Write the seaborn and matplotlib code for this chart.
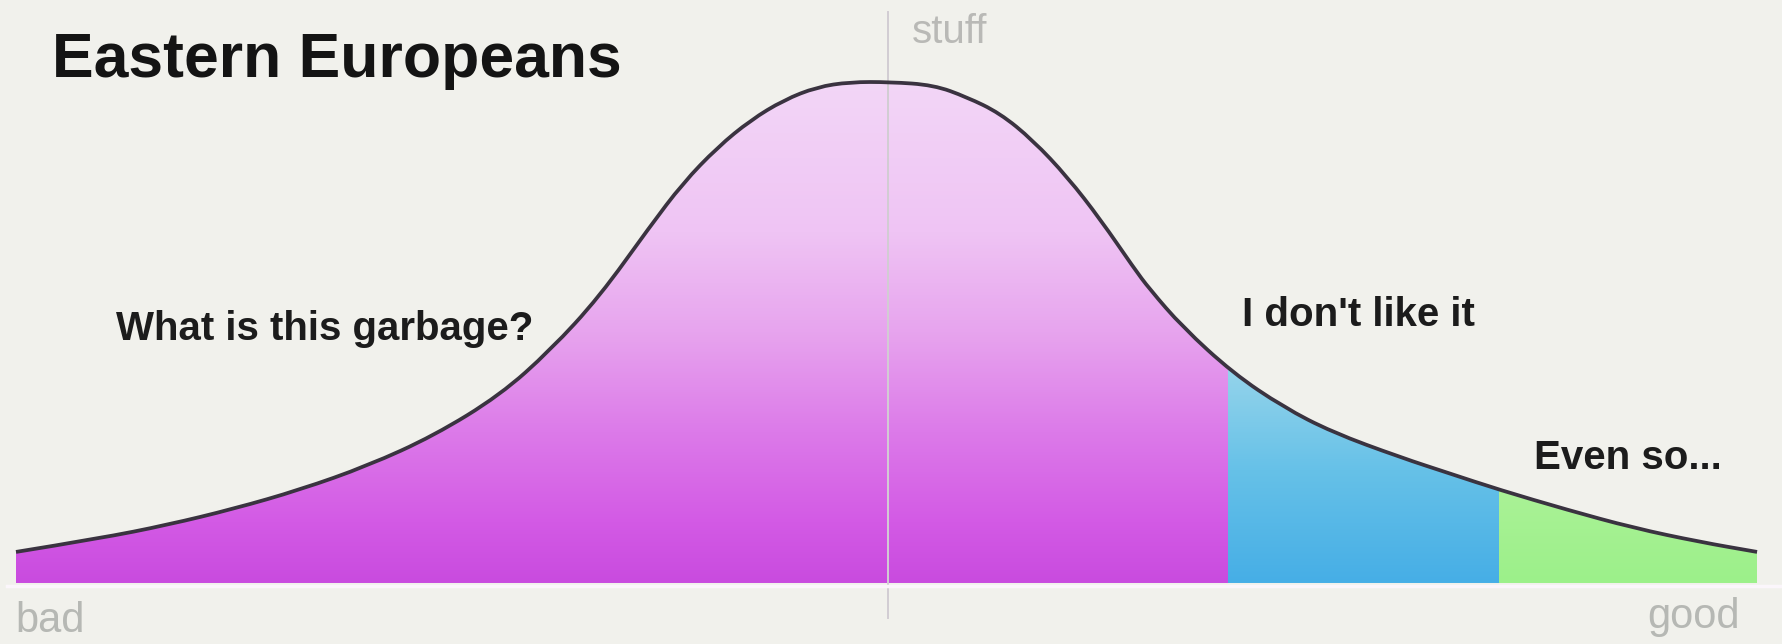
import numpy as np
import matplotlib
matplotlib.use("Agg")
from matplotlib import pyplot as plt
from matplotlib.colors import LinearSegmentedColormap
from matplotlib.path import Path
from matplotlib.patches import PathPatch
import seaborn as sns

# curve: position on the bad..good axis (0-100), height (0-100)
stuff_x = [0, 4.8, 8.7, 12.5, 16.3, 20.2, 24.0, 27.8, 30.7, 33.5, 36.4, 38.3,
           40.3, 42.2, 44.1, 46.0, 47.9, 50.2, 52.7, 54.6, 56.5, 58.4, 60.4,
           62.3, 64.2, 65.1, 67.0, 69.9, 72.8, 75.6, 79.5, 82.4, 85.2, 89.1,
           92.9, 96.7, 100]
people = [6.2, 8.9, 11.6, 14.8, 18.6, 23.4, 29.4, 37.5, 46.5, 57.1, 71.1, 79.8,
          87.0, 92.4, 96.4, 99.0, 100, 100, 99.4, 97.0, 93.8, 88.4, 81.0,
          72.5, 62.9, 58.7, 51.1, 41.9, 35.1, 30.1, 25.1, 21.8, 18.6, 14.6,
          11.0, 8.2, 6.2]

# zones: name, start, end
zones = ["What is this garbage?", "I don't like it", "Even so..."]
zone_start = [0, 69.6, 85.2]
zone_end = [69.6, 85.2, 100]
zone_top = [100, 45, 20]

title = "Eastern Europeans"
x_labels = ["bad", "good"]
y_label = "stuff"

W, H = 1783, 644
bg = "#f1f1ec"

sns.set_theme(style="white")
plt.rcParams["font.family"] = ["Liberation Sans", "DejaVu Sans"]

fig = plt.figure(figsize=(W / 100, H / 100), dpi=100, facecolor=bg)
ax = fig.add_axes([0, 0, 1, 1])
ax.set_facecolor(bg)

sns.lineplot(x=stuff_x, y=people, ax=ax, sort=False)
line = ax.lines[0]
xy = line.get_xydata()
line.set_visible(False)

# draw the seaborn line as a smooth path (quadratic pieces through midpoints)
verts = [xy[0]]
codes = [Path.MOVETO]
for i in range(1, len(xy) - 1):
    verts += [xy[i], (xy[i] + xy[i + 1]) / 2]
    codes += [Path.CURVE3, Path.CURVE3]
verts.append(xy[-1])
codes.append(Path.LINETO)
curve = Path(verts, codes)
area = Path(verts + [(xy[-1][0], 0), (xy[0][0], 0), (xy[0][0], 0)],
            codes + [Path.LINETO, Path.LINETO, Path.CLOSEPOLY])

cmaps = [
    LinearSegmentedColormap.from_list("mag", [(0, "#c94bdf"), (0.12, "#d35ae5"),
                                              (0.3, "#dc7ae9"), (0.5, "#e7a4ee"),
                                              (0.7, "#efc4f4"), (1, "#f3d6f7")]),
    LinearSegmentedColormap.from_list("blu", [(0, "#46aee6"), (0.5, "#66c1e8"),
                                              (1, "#9ad6eb")]),
    LinearSegmentedColormap.from_list("grn", [(0, "#9cf08a"), (1, "#abf297")]),
]
grad = np.linspace(0, 1, 256).reshape(-1, 1)
for x0, x1, top, cm in zip(zone_start, zone_end, zone_top, cmaps):
    im = ax.imshow(grad, extent=[x0, x1, 0, top], aspect="auto", cmap=cm,
                   origin="lower", vmin=0, vmax=1, zorder=1, interpolation="bilinear")
    im.set_clip_path(area, transform=ax.transData)

ax.add_patch(PathPatch(curve, fill=False, edgecolor="#3a3340", linewidth=2.7,
                       capstyle="butt", zorder=3))

ax.set_xlim(-0.919, 101.49)
ax.set_ylim(-12.18, 116.37)
ax.set_xticks([])
ax.set_yticks([])
ax.set_xlabel("")
ax.set_ylabel("")
for s in ["top", "right"]:
    ax.spines[s].set_visible(False)
ax.spines["left"].set_position(("data", 50.1))
ax.spines["left"].set_bounds(-7, 114)
ax.spines["left"].set_color("#d2cdd3")
ax.spines["left"].set_linewidth(1.4)
ax.spines["left"].set_zorder(2)
ax.spines["bottom"].set_position(("data", -0.6))
ax.spines["bottom"].set_bounds(-0.5, 101.5)
ax.spines["bottom"].set_color("#fbf6fb")
ax.spines["bottom"].set_linewidth(2.5)


def put(px, py, s, **kw):
    fig.text(px / W, 1 - py / H, s, va="baseline", **kw)


put(52, 77, title, fontsize=45, fontweight="bold", color="#141414")
put(912, 43, y_label, fontsize=29, color="#b9b9b6")
put(15, 632, x_labels[0], fontsize=30, color="#b6b8b4")
put(1740, 628, x_labels[1], fontsize=30, color="#b6b8b4", ha="right")
put(116, 340, zones[0], fontsize=29, fontweight="bold", color="#1c1c1c")
put(1242, 326, zones[1], fontsize=29, fontweight="bold", color="#1c1c1c")
put(1534, 469, zones[2], fontsize=29, fontweight="bold", color="#1c1c1c")

fig.savefig("out.png", dpi=100, facecolor=bg)
